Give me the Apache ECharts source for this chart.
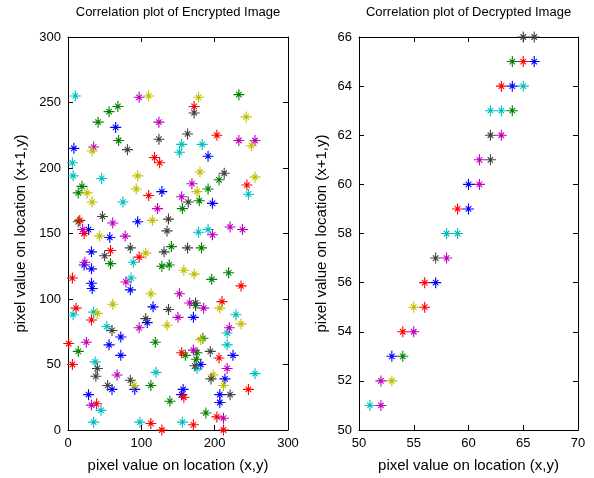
<!DOCTYPE html>
<html>
<head>
<meta charset="utf-8">
<script src="https://cdn.jsdelivr.net/npm/echarts@6/dist/echarts.min.js"></script>
<style>html,body{margin:0;padding:0;background:#fff;}#c{width:594px;height:478px;}</style>
</head>
<body>
<div id="c"></div>
<script>
// ---------- Data: Encrypted image correlation (x, y) grouped by marker colour ----------
const encBlue = [[65,231],[8,215],[128,182],[191,209],[197,173],[95,159],[28,153],[57,147],[32,136],[22,126],[32,123],[32,112],[33,108],[85,107],[116,94],[171,86],[108,82],[72,71],[56,65],[72,57],[60,31],[91,31],[28,27],[225,57],[181,50],[214,39],[157,31],[155,27],[207,27],[207,21]];
const encGreen = [[56,243],[68,247],[41,235],[69,221],[19,186],[14,181],[233,256],[206,191],[191,184],[179,175],[156,169],[14,159],[141,140],[58,127],[128,125],[138,126],[182,139],[196,115],[219,120],[174,95],[119,67],[14,60],[113,34],[139,22],[184,70],[160,57],[176,59],[175,54],[188,13]];
const encRed = [[118,208],[125,204],[110,179],[172,247],[203,225],[244,187],[16,160],[22,150],[58,137],[97,132],[6,116],[11,93],[236,110],[210,98],[32,84],[1,66],[6,50],[39,20],[113,5],[128,0],[155,59],[206,55],[246,31],[158,25],[203,10],[171,4],[212,0]];
const encCyan = [[10,255],[6,204],[7,194],[46,192],[75,174],[155,218],[183,218],[152,212],[246,180],[89,128],[86,116],[7,88],[35,90],[178,151],[191,153],[229,88],[53,79],[37,52],[120,44],[45,15],[35,6],[98,6],[217,74],[217,65],[176,47],[255,43],[156,6]];
const encMagenta = [[97,254],[124,235],[35,216],[122,169],[233,221],[255,221],[169,188],[155,178],[61,158],[20,153],[78,148],[23,128],[79,113],[221,155],[238,153],[197,149],[152,104],[166,97],[185,93],[150,86],[97,78],[25,67],[67,42],[32,19],[220,78],[171,61],[217,47],[212,9]];
const encYellow = [[110,255],[33,213],[95,194],[26,181],[93,184],[33,174],[178,254],[243,239],[250,217],[180,197],[255,193],[176,182],[115,160],[43,148],[106,135],[113,104],[61,96],[40,89],[158,122],[172,119],[207,93],[135,80],[90,34],[236,81],[181,69],[198,42],[212,34]];
const encGray = [[124,222],[81,214],[172,242],[163,226],[213,196],[164,174],[47,163],[137,161],[135,152],[85,139],[50,133],[131,136],[137,92],[163,139],[174,97],[106,85],[60,76],[40,47],[38,41],[85,38],[54,34],[194,60],[173,49],[195,39],[221,27]];

// ---------- Data: Decrypted image correlation ----------
const decBlue = [[66,65],[64,64],[60,60],[60,59],[57,56],[53,53]];
const decGreen = [[64,65],[64,63],[54,53]];
const decRed = [[65,65],[63,64],[59,59],[56,56],[56,55],[54,54]];
const decCyan = [[65,64],[62,63],[63,63],[58,58],[59,58],[51,51]];
const decMagenta = [[63,62],[61,61],[61,60],[58,57],[55,54],[52,52],[52,51]];
const decYellow = [[55,55],[53,52]];
const decGray = [[65,66],[66,66],[62,62],[62,61],[57,57]];

// ---------- Axis ticks ----------
const encXTicks = {min: 0, max: 300, interval: 100};
const encYTicks = {min: 0, max: 300, interval: 50};
const decXTicks = {min: 50, max: 70, interval: 5};
const decYTicks = {min: 50, max: 66, interval: 2};

const titles = ['Correlation plot of Encrypted Image', 'Correlation plot of Decrypted Image'];
const xName = 'pixel value on location (x,y)';
const yName = 'pixel value on location (x+1,y)';

const colors = {
  blue: '#0000FF', green: '#008000', red: '#FF0000', cyan: '#00BFBF',
  magenta: '#BF00BF', yellow: '#BFBF00', gray: '#404040'
};

// asterisk marker (plus + short diagonals)
const STAR = 'path://M9 0h2v9h9v2h-9v9h-2v-9h-9v-2h9z M4.3 5.7L5.7 4.3L15.7 14.3L14.3 15.7z M14.3 4.3L15.7 5.7L5.7 15.7L4.3 14.3z';

const FONT = 'Liberation Sans, Arial, sans-serif';

function mkAxis(type, gridIndex, ticks, pos, opts) {
  const shown = (pos === 'bottom' || pos === 'left');
  return Object.assign({
    type: 'value', gridIndex: gridIndex, position: pos,
    min: ticks.min, max: ticks.max, interval: ticks.interval,
    axisLine: {show: true, onZero: false, lineStyle: {color: '#000', width: 1}},
    axisTick: {show: true, inside: true, length: 5, lineStyle: {color: '#000'}},
    axisLabel: {show: shown, color: '#000', fontSize: 13, fontFamily: FONT, margin: 7},
    splitLine: {show: false}
  }, opts || {});
}

const xAxes = [
  mkAxis('x', 0, encXTicks, 'bottom', {name: xName, nameLocation: 'middle', nameGap: 28,
    nameTextStyle: {color: '#000', fontSize: 15, fontFamily: FONT}}),
  mkAxis('x', 0, encXTicks, 'top', {name: titles[0], nameLocation: 'middle', nameGap: 18,
    nameTextStyle: {color: '#000', fontSize: 13, fontFamily: FONT}}),
  mkAxis('x', 1, decXTicks, 'bottom', {name: xName, nameLocation: 'middle', nameGap: 28,
    nameTextStyle: {color: '#000', fontSize: 15, fontFamily: FONT}}),
  mkAxis('x', 1, decXTicks, 'top', {name: titles[1], nameLocation: 'middle', nameGap: 18,
    nameTextStyle: {color: '#000', fontSize: 13, fontFamily: FONT}})
];
const yAxes = [
  mkAxis('y', 0, encYTicks, 'left', {name: yName, nameLocation: 'middle', nameGap: 40,
    nameTextStyle: {color: '#000', fontSize: 15, fontFamily: FONT}}),
  mkAxis('y', 0, encYTicks, 'right'),
  mkAxis('y', 1, decYTicks, 'left', {name: yName, nameLocation: 'middle', nameGap: 30,
    nameTextStyle: {color: '#000', fontSize: 15, fontFamily: FONT}}),
  mkAxis('y', 1, decYTicks, 'right')
];

function sc(data, color, gi) {
  return {
    type: 'scatter', xAxisIndex: gi * 2, yAxisIndex: gi * 2, data: data,
    symbol: STAR, symbolSize: 11, clip: false,
    itemStyle: {color: color, opacity: 1},
    emphasis: {disabled: true}, silent: true
  };
}

const series = [
  sc(encBlue, colors.blue, 0), sc(encGreen, colors.green, 0), sc(encRed, colors.red, 0),
  sc(encCyan, colors.cyan, 0), sc(encMagenta, colors.magenta, 0), sc(encYellow, colors.yellow, 0),
  sc(encGray, colors.gray, 0),
  sc(decBlue, colors.blue, 1), sc(decGreen, colors.green, 1), sc(decRed, colors.red, 1),
  sc(decCyan, colors.cyan, 1), sc(decMagenta, colors.magenta, 1), sc(decYellow, colors.yellow, 1),
  sc(decGray, colors.gray, 1)
];

const chart = echarts.init(document.getElementById('c'), null, {renderer: 'canvas'});
chart.setOption({
  backgroundColor: '#fff',
  animation: false,
  grid: [
    {left: 68, top: 37, width: 220, height: 393},
    {left: 359, top: 37, width: 219, height: 393}
  ],
  xAxis: xAxes,
  yAxis: yAxes,
  series: series
});
</script>
</body>
</html>
